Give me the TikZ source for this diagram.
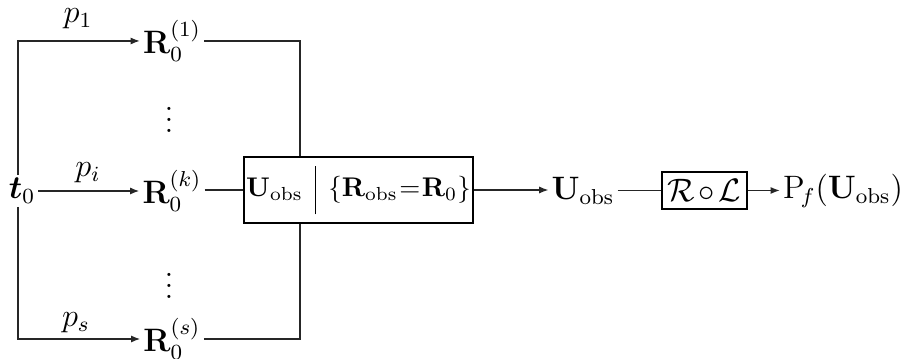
\documentclass[tikz,border=0pt]{standalone}
\usepackage{amsmath,amssymb}
\usetikzlibrary{arrows.meta}
\begin{document}
\begin{tikzpicture}[x=0.37pt,y=-0.37pt,
  every node/.style={font=\fontsize{12}{14}\selectfont},
  lbl/.style={inner sep=1pt},
  conn/.style={line width=0.45pt,draw=black!85},
  arr/.style={conn,-{Latex[length=3.4pt,width=2.6pt]}},
  blk/.style={draw,line width=0.45pt,inner sep=0pt,anchor=center}]
\useasboundingbox (0,0) rectangle (903,359);
\node[lbl] (t0) at (22,191) {$\boldsymbol{t}_0$};
\node[lbl] (r1) at (172,41) {$\mathbf{R}_0^{(1)}$};
\node[lbl] (rk) at (172,191) {$\mathbf{R}_0^{(k)}$};
\node[lbl] (rs) at (172,339) {$\mathbf{R}_0^{(s)}$};
\node[lbl] (d1) at (169,112) {$\vdots$};
\node[lbl] (d2) at (169,278) {$\vdots$};
\node[lbl] (p1) at (78,19) {$p_1$};
\node[lbl] (pi) at (88,173) {$p_i$};
\node[lbl] (ps) at (76,323) {$p_s$};
\node[blk,minimum width=229*0.37pt,minimum height=66*0.37pt,font=\fontsize{10}{12}\selectfont] (box) at (358.5,190)
  {$\mathbf{U}_{\mathrm{obs}}\mskip3mu\mathrel{\vrule width 0.6pt height 11.5pt depth 6.5pt}\mskip3mu\{\mathbf{R}_{\mathrm{obs}}\mskip1mu{=}\mskip1mu\mathbf{R}_0\}$};
\node[lbl] (uo) at (583,191) {$\mathbf{U}_{\mathrm{obs}}$};
\node[blk,minimum width=85*0.37pt,minimum height=37*0.37pt] (rl) at (704.5,190.5)
  {$\mathcal{R}\mskip2mu{\circ}\mskip2mu\mathcal{L}$};
\node[lbl] (pf) at (843,191) {$\mathrm{P}_{\!f}(\mathbf{U}_{\mathrm{obs}})$};
\coordinate (cl) at (18,0);
\coordinate (cv) at (300,0);
\draw[arr] (cl |- t0.north) -- (cl |- r1.west) -- (r1.west);
\draw[arr] (cl |- t0.south) -- (cl |- rs.west) -- (rs.west);
\draw[arr] (t0.east) -- (t0.east -| rk.west);
\draw[conn] (r1.east) -| (cv |- box.north);
\draw[conn] (rs.east) -| (cv |- box.south);
\draw[conn] (rk.east |- box.west) -- (box.west);
\draw[arr] (box.east) -- (box.east -| uo.west);
\draw[conn] (uo.east |- rl.west) -- (rl.west);
\draw[arr] (rl.east) -- (rl.east -| pf.west);
\end{tikzpicture}
\end{document}
